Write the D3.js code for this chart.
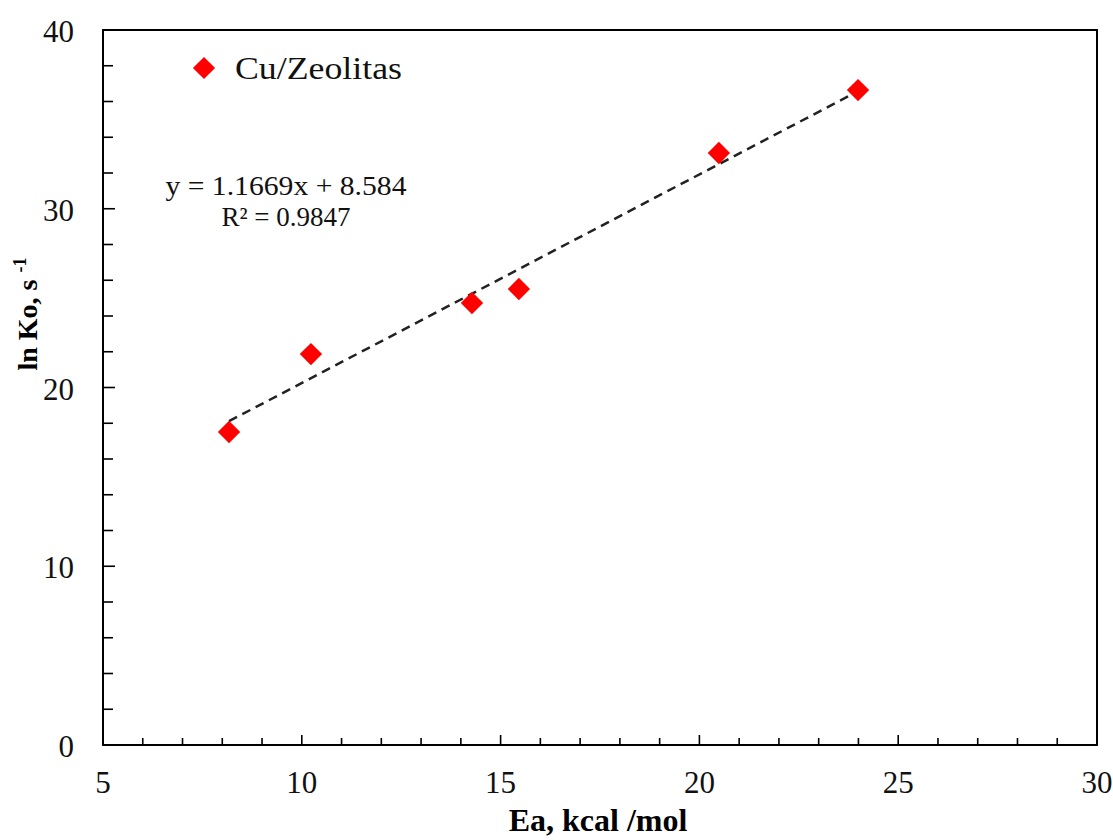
<!DOCTYPE html>
<html><head><meta charset="utf-8">
<script src="https://cdn.jsdelivr.net/npm/d3@7"></script>
<style>body{margin:0;background:#fff}svg{display:block}text{font-family:"Liberation Serif","Times New Roman",serif}</style>
</head><body>
<script>
const eaValues = [8.17, 10.23, 14.28, 15.46, 20.49, 23.99];
const lnKoValues = [17.51, 21.87, 24.73, 25.51, 33.12, 36.64];
const seriesName = "Cu/Zeolitas";
const xTicks = [5, 10, 15, 20, 25, 30];
const yTicks = [0, 10, 20, 30, 40];
const slope = 1.1669, intercept = 8.584;
const eqText = "y = 1.1669x + 8.584";
const r2Text = "R² = 0.9847";

const W = 1113, H = 840;
const m = {left: 103, right: 16, top: 30, bottom: 95};
const svg = d3.select("body").append("svg").attr("width", W).attr("height", H);
const x = d3.scaleLinear().domain([5, 30]).range([m.left, W - m.right]);
const y = d3.scaleLinear().domain([0, 40]).range([H - m.bottom, m.top]);

// minor ticks
const g = svg.append("g");
const xMinor = d3.range(5, 30.01, 1);
const yMinor = d3.range(0, 40.01, 2);
g.selectAll(".xm").data(xMinor).join("line")
  .attr("x1", d => x(d)).attr("x2", d => x(d))
  .attr("y1", y(0)).attr("y2", d => y(0) - (d % 5 === 0 ? 10 : 7))
  .attr("stroke", "#000").attr("stroke-width", 1.6);
g.selectAll(".ym").data(yMinor).join("line")
  .attr("y1", d => y(d)).attr("y2", d => y(d))
  .attr("x1", x(5)).attr("x2", d => x(5) + (d % 10 === 0 ? 12 : 10))
  .attr("stroke", "#000").attr("stroke-width", 1.6);

// frame
svg.append("rect").attr("x", x(5)).attr("y", y(40))
  .attr("width", x(30) - x(5)).attr("height", y(0) - y(40))
  .attr("fill", "none").attr("stroke", "#000").attr("stroke-width", 2);

// tick labels
svg.selectAll(".xl").data(xTicks).join("text")
  .attr("x", d => x(d)).attr("y", y(0) + 48)
  .attr("text-anchor", "middle").attr("font-size", 31).attr("fill", "#111").text(d => d);
svg.selectAll(".yl").data(yTicks).join("text")
  .attr("x", 74).attr("y", d => y(d) + 12)
  .attr("text-anchor", "end").attr("font-size", 31).attr("fill", "#111").text(d => d);

// axis titles
svg.append("text").attr("x", 598).attr("y", 831)
  .attr("text-anchor", "middle").attr("font-size", 32).attr("font-weight", "bold")
  .text("Ea, kcal /mol");
const yt = svg.append("text").attr("transform", `translate(37,${314}) rotate(-90)`)
  .attr("text-anchor", "middle").attr("font-size", 28).attr("font-weight", "bold");
yt.append("tspan").text("ln Ko, s ");
yt.append("tspan").attr("font-size", 18).attr("dy", -11).text("-1");

// trendline
const xmin = d3.min(eaValues), xmax = d3.max(eaValues);
svg.append("line")
  .attr("x1", x(xmin)).attr("y1", y(slope * xmin + intercept))
  .attr("x2", x(xmax)).attr("y2", y(slope * xmax + intercept))
  .attr("stroke", "#222").attr("stroke-width", 2.5).attr("stroke-dasharray", "9,6");

// points
const diamond = d3.symbol().type(d3.symbolSquare).size(250);
svg.selectAll(".pt").data(eaValues).join("path")
  .attr("d", diamond)
  .attr("transform", (d, i) => `translate(${x(d)},${y(lnKoValues[i])}) rotate(45)`)
  .attr("fill", "#ff0000");

// legend
svg.append("path").attr("d", d3.symbol().type(d3.symbolSquare).size(245))
  .attr("transform", "translate(204,68) rotate(45)").attr("fill", "#ff0000");
svg.append("text").attr("x", 235).attr("y", 79).attr("font-size", 32).attr("fill", "#111")
  .attr("textLength", 167).attr("lengthAdjust", "spacingAndGlyphs").text(seriesName);

// equation
svg.append("text").attr("x", 286).attr("y", 195).attr("text-anchor", "middle")
  .attr("font-size", 27).attr("fill", "#111")
  .attr("textLength", 241).attr("lengthAdjust", "spacingAndGlyphs").text(eqText);
svg.append("text").attr("x", 286).attr("y", 226).attr("text-anchor", "middle")
  .attr("font-size", 27).attr("fill", "#111").text(r2Text);
</script>
</body></html>
